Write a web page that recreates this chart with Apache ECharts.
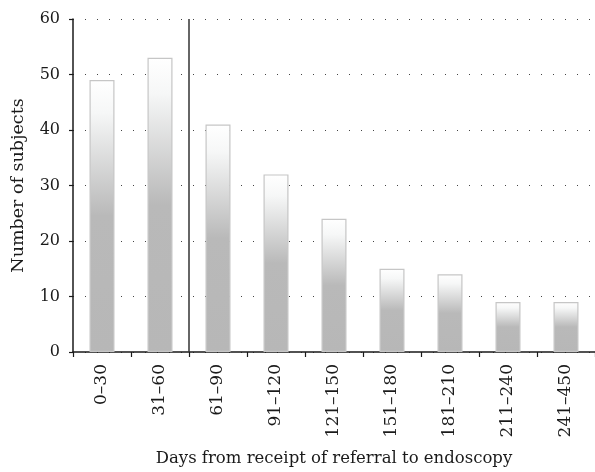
<!DOCTYPE html>
<html>
<head>
<meta charset="utf-8">
<script src="https://cdn.jsdelivr.net/npm/echarts@6/dist/echarts.min.js"></script>
<style>html,body{margin:0;padding:0;background:#fff}#c{width:595px;height:472px}</style>
</head>
<body>
<div id="c"></div>
<script>
const categories = ['0–30','31–60','61–90','91–120','121–150','151–180','181–210','211–240','241–450'];
const subjects = [49, 53, 41, 32, 24, 15, 14, 9, 9];
const yTicks = [0, 10, 20, 30, 40, 50, 60];
const dividerAt = 2; // boundary between 31–60 and 61–90

const font = 'DejaVu Serif';
const chart = echarts.init(document.getElementById('c'), null, {renderer: 'canvas'});
chart.setOption({
  animation: false,
  backgroundColor: '#fff',
  grid: {left: 73, top: 19, width: 525, bottom: 120, containLabel: false},
  xAxis: [{
    type: 'category',
    data: categories,
    name: 'Days from receipt of referral to endoscopy',
    nameLocation: 'middle',
    nameGap: 98,
    nameTextStyle: {fontFamily: font, fontSize: 16.5, color: '#1a1a1a'},
    axisLine: {lineStyle: {color: '#1a1a1a', width: 1.5}},
    axisTick: {show: true, length: 5, lineStyle: {color: '#1a1a1a', width: 1.2}},
    axisLabel: {rotate: 90, fontFamily: font, fontSize: 17, color: '#1a1a1a', margin: 12},
    splitLine: {show: false}
  }, {
    type: 'value', min: 0, max: categories.length, show: false
  }],
  yAxis: {
    type: 'value', min: yTicks[0], max: yTicks[yTicks.length - 1], interval: 10,
    name: 'Number of subjects',
    nameLocation: 'middle',
    nameGap: 46,
    nameTextStyle: {fontFamily: font, fontSize: 17.5, color: '#1a1a1a'},
    axisLine: {show: true, lineStyle: {color: '#1a1a1a', width: 1.5}},
    axisTick: {show: true, length: 4, lineStyle: {color: '#1a1a1a', width: 1.2}},
    axisLabel: {fontFamily: font, fontSize: 16, color: '#1a1a1a', margin: 13},
    splitLine: {show: true, lineStyle: {color: '#444', width: 1, type: [1, 11]}}
  },
  series: [{
    type: 'bar',
    data: subjects,
    barWidth: 25,
    z: 3,
    itemStyle: {
      borderColor: '#c6c6c6', borderWidth: 1.2,
      color: new echarts.graphic.LinearGradient(0, 0, 0, 1, [
        {offset: 0, color: '#ffffff'},
        {offset: 0.12, color: '#f6f7f7'},
        {offset: 0.5, color: '#b9b9b9'},
        {offset: 1, color: '#b7b7b7'}
      ])
    }
  }, {
    type: 'line',
    xAxisIndex: 1,
    data: [[dividerAt, yTicks[0]], [dividerAt, yTicks[yTicks.length - 1]]],
    symbol: 'none',
    z: 4,
    lineStyle: {color: '#333', width: 1.5}
  }]
});
</script>
</body>
</html>
